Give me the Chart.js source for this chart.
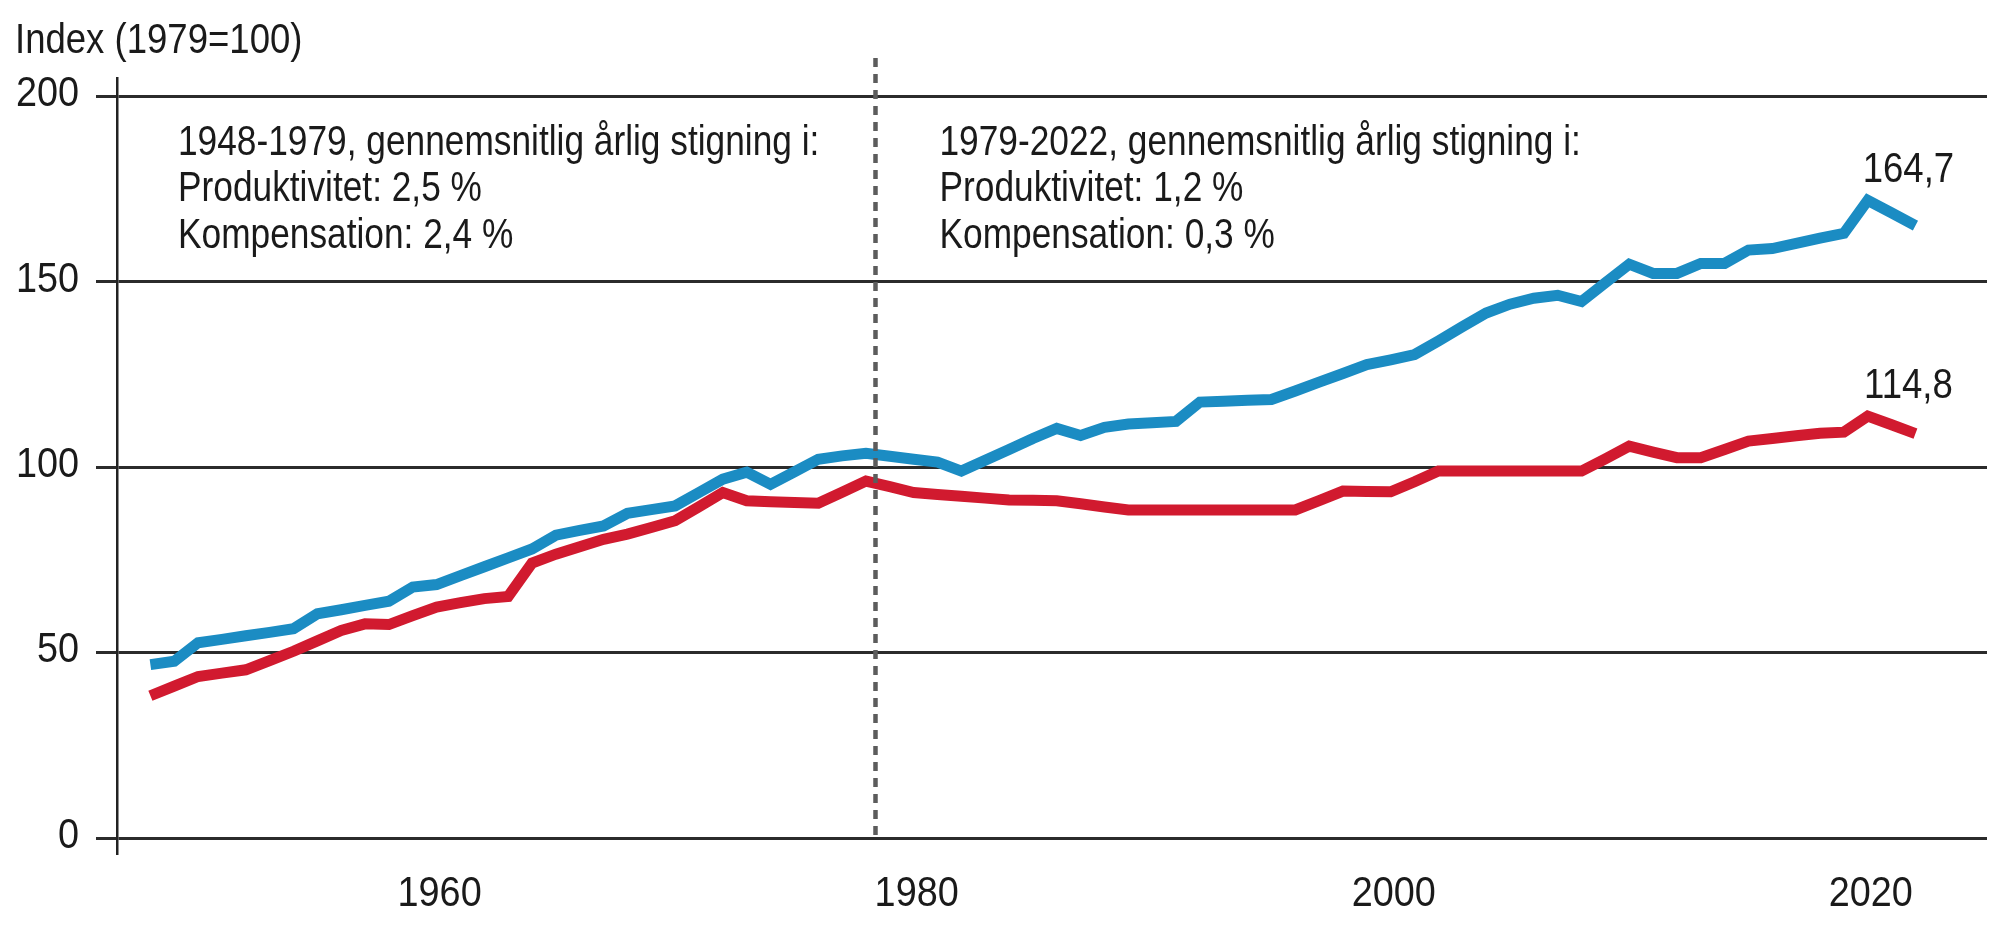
<!DOCTYPE html>
<html>
<head>
<meta charset="utf-8">
<title>Produktivitet og kompensation</title>
<script src="https://cdn.jsdelivr.net/npm/chart.js@4.4.1/dist/chart.umd.min.js"></script>
<style>
  html, body { margin: 0; padding: 0; background: #fff; }
  #wrap { width: 2000px; height: 948px; }
</style>
</head>
<body>
<div id="wrap"><canvas id="myChart" width="2000" height="948"></canvas></div>
<script>
// Years on the x axis
const years = [
    1948, 1949, 1950, 1951, 1952, 1953, 1954, 1955, 1956, 1957,
    1958, 1959, 1960, 1961, 1962, 1963, 1964, 1965, 1966, 1967,
    1968, 1969, 1970, 1971, 1972, 1973, 1974, 1975, 1976, 1977,
    1978, 1979, 1980, 1981, 1982, 1983, 1984, 1985, 1986, 1987,
    1988, 1989, 1990, 1991, 1992, 1993, 1994, 1995, 1996, 1997,
    1998, 1999, 2000, 2001, 2002, 2003, 2004, 2005, 2006, 2007,
    2008, 2009, 2010, 2011, 2012, 2013, 2014, 2015, 2016, 2017,
    2018, 2019, 2020, 2021, 2022
];

// Produktivitet (blue), index 1979=100
const productivity = [
    46.8, 47.7, 52.7, 53.6, 54.6, 55.5, 56.5, 60.5, 61.6, 62.8,
    63.9, 67.7, 68.4, 70.8, 73.2, 75.6, 78.0, 81.7, 83.0, 84.2,
    87.6, 88.6, 89.6, 93.2, 96.8, 98.7, 95.4, 98.8, 102.2, 103.1,
    103.8, 103.0, 102.2, 101.4, 99.0, 101.9, 104.8, 107.8, 110.5, 108.6,
    110.8, 111.7, 112.0, 112.4, 117.6, 117.8, 118.1, 118.3, 120.6, 123.0,
    125.3, 127.7, 129.0, 130.4, 134.1, 137.9, 141.6, 144.0, 145.6, 146.4,
    144.7, 149.8, 154.8, 152.3, 152.3, 155.0, 155.0, 158.6, 159.0, 160.4,
    161.8, 163.1, 172.0, 168.6, 165.2
];

// Kompensation (red)
const compensation = [
    38.4, 41.0, 43.6, 44.5, 45.4, 47.9, 50.4, 53.2, 56.0, 57.8,
    57.6, 60.0, 62.3, 63.5, 64.6, 65.2, 74.2, 76.6, 78.6, 80.6,
    82.0, 83.8, 85.6, 89.4, 93.2, 91.0, 90.7, 90.5, 90.3, 93.3,
    96.3, 94.8, 93.2, 92.7, 92.2, 91.7, 91.2, 91.1, 91.0, 90.2,
    89.3, 88.5, 88.5, 88.5, 88.5, 88.5, 88.5, 88.5, 88.5, 91.0,
    93.6, 93.5, 93.4, 96.1, 99.0, 99.0, 99.0, 99.0, 99.0, 99.0,
    99.0, 102.3, 105.7, 104.1, 102.6, 102.6, 104.8, 107.1, 107.8, 108.5,
    109.2, 109.5, 113.8, 111.5, 109.1
];

// Tick labels
const yTicks = [0, 50, 100, 150, 200];
const xTicks = [1960, 1980, 2000, 2020];

// Texts
const yTitle = 'Index (1979=100)';
const noteLeft = ['1948-1979, gennemsnitlig årlig stigning i:', 'Produktivitet: 2,5 %', 'Kompensation: 2,4 %'];
const noteRight = ['1979-2022, gennemsnitlig årlig stigning i:', 'Produktivitet: 1,2 %', 'Kompensation: 0,3 %'];
const endLabels = ['164,7', '114,8'];

// the dotted divider sits a little left of 1979 in the original
const dividerYear = 1978.4;

const colors = {
    productivity: '#1b8cc3',
    compensation: '#d11a2f',
    text: '#1a1a1a',
    grid: '#2b2b2b',
    divider: '#5c5c5c'
};
// no condensed face is installed, so text is squeezed horizontally on the canvas
const fontFamily = "'Liberation Sans', Arial, sans-serif";
const fontSize = 42;

Chart.defaults.font.family = fontFamily;
Chart.defaults.color = colors.text;

function drawText(ctx, text, x, y, align, baseline, squeeze) {
    ctx.save();
    ctx.font = fontSize + 'px ' + fontFamily;
    ctx.fillStyle = colors.text;
    ctx.textAlign = align;
    ctx.textBaseline = baseline;
    ctx.translate(x, y);
    ctx.scale(squeeze, 1);
    ctx.fillText(text, 0, 0);
    ctx.restore();
}

const annotations = {
    id: 'annotations',
    afterDatasetsDraw(chart) {
        const {ctx, chartArea, scales: {x, y}} = chart;
        ctx.save();

        // dashed divider line
        const dx = x.getPixelForValue(dividerYear);
        ctx.strokeStyle = colors.divider;
        ctx.lineWidth = 4.5;
        ctx.setLineDash([9, 7]);
        ctx.beginPath();
        ctx.moveTo(dx, chartArea.top - 20);
        ctx.lineTo(dx, y.getPixelForValue(0));
        ctx.stroke();
        ctx.restore();

        // tick labels, placed by the scales
        y.ticks.forEach(t => {
            drawText(ctx, String(t.value), y.right - 21 - 17, y.getPixelForValue(t.value) - 2, 'right', 'middle', 0.9);
        });
        x.ticks.forEach(t => {
            drawText(ctx, String(t.value), x.getPixelForValue(t.value) + 3, chartArea.bottom + 41, 'center', 'middle', 0.9);
        });

        // axis title
        drawText(ctx, yTitle, 15, 41, 'left', 'middle', 0.87);

        // period notes
        const baselines = [77, 123, 170];
        noteLeft.forEach((line, i) => {
            drawText(ctx, line, chartArea.left + 61, chartArea.top + baselines[i], 'left', 'alphabetic', 0.84);
        });
        noteRight.forEach((line, i) => {
            drawText(ctx, line, dx + 64, chartArea.top + baselines[i], 'left', 'alphabetic', 0.84);
        });

        // end value labels above each series
        const lastYear = years[years.length - 1];
        [productivity, compensation].forEach((series, i) => {
            const peak = Math.max(...series.slice(-4));
            drawText(ctx, endLabels[i], x.getPixelForValue(lastYear) - 7, y.getPixelForValue(peak) - 18, 'center', 'alphabetic', 0.87);
        });
    }
};

const ctx = document.getElementById('myChart').getContext('2d');
new Chart(ctx, {
    type: 'line',
    data: {
        datasets: [
            {
                label: 'Produktivitet',
                data: years.map((yr, i) => ({x: yr, y: productivity[i]})),
                borderColor: colors.productivity,
                borderWidth: 11,
                pointRadius: 0,
                tension: 0
            },
            {
                label: 'Kompensation',
                data: years.map((yr, i) => ({x: yr, y: compensation[i]})),
                borderColor: colors.compensation,
                borderWidth: 11,
                pointRadius: 0,
                tension: 0
            }
        ]
    },
    options: {
        responsive: false,
        devicePixelRatio: 1,
        animation: false,
        layout: {
            padding: {top: 78, right: 13, bottom: 0, left: 0}
        },
        plugins: {
            legend: {display: false},
            tooltip: {enabled: false}
        },
        scales: {
            x: {
                type: 'linear',
                min: 1946.6,
                max: 2025.0,
                afterBuildTicks: axis => { axis.ticks = xTicks.map(v => ({value: v})); },
                afterFit: scale => { scale.height = 95; },
                grid: {display: false, drawTicks: false},
                border: {display: false},
                ticks: {display: false}
            },
            y: {
                min: -4,
                max: 205,
                afterBuildTicks: axis => { axis.ticks = yTicks.map(v => ({value: v})); },
                afterFit: scale => { scale.width = 117; },
                grid: {
                    color: colors.grid,
                    lineWidth: 3,
                    tickLength: 21
                },
                border: {display: true, color: '#222', width: 2.5},
                ticks: {display: false}
            }
        }
    },
    plugins: [annotations]
});
</script>
</body>
</html>
